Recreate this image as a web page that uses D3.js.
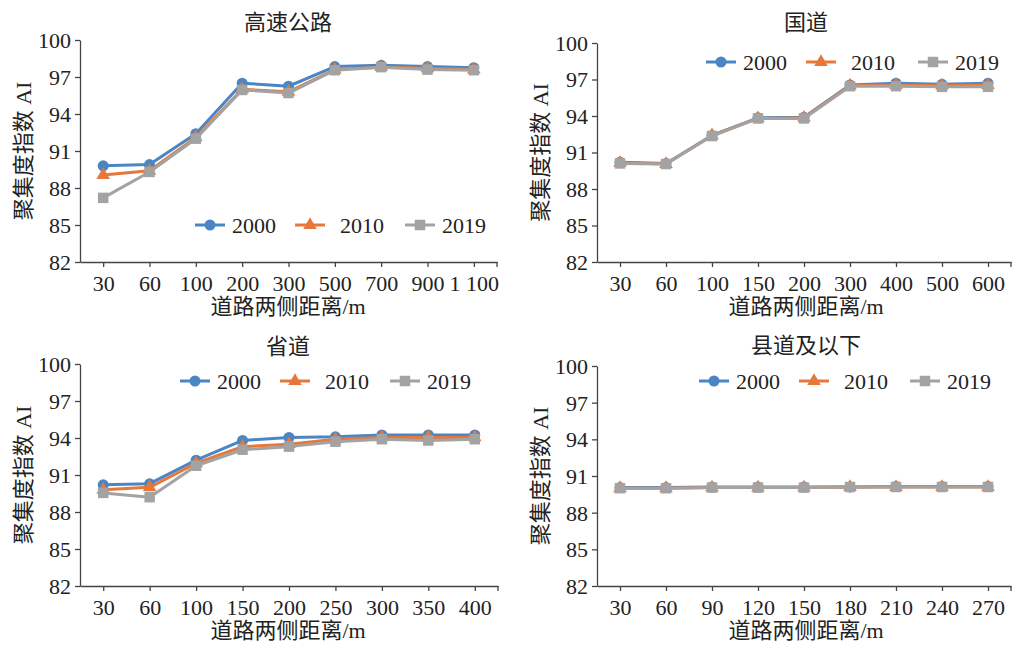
<!DOCTYPE html>
<html>
<head>
<meta charset="utf-8">
<script src="https://cdn.jsdelivr.net/npm/d3@7"></script>
<style>
  body { margin: 0; background: #fff; }
  svg { display: block; font-family: 'Liberation Serif', 'Noto Sans CJK SC', serif; }
  .tick text { font-size: 22px; fill: #222; }
  .ttl { font-size: 22px; fill: #222; }
</style>
</head>
<body>
<svg id="chart" width="1012" height="648"></svg>
<script>
// data
const years = ['2000', '2010', '2019'];
const yTicks = [82, 85, 88, 91, 94, 97, 100];

const highwayDist = ['30', '60', '100', '200', '300', '500', '700', '900', '1 100'];
const highway2000 = [89.8, 89.9, 92.4, 96.5, 96.25, 97.85, 97.95, 97.85, 97.75];
const highway2010 = [89.05, 89.4, 92.1, 96.0, 95.8, 97.6, 97.8, 97.7, 97.6];
const highway2019 = [87.2, 89.3, 92.0, 95.95, 95.7, 97.55, 97.8, 97.6, 97.55];

const nationalDist = ['30', '60', '100', '150', '200', '300', '400', '500', '600'];
const national2000 = [90.2, 90.1, 92.4, 93.85, 93.9, 96.55, 96.7, 96.6, 96.7];
const national2010 = [90.15, 90.05, 92.4, 93.8, 93.85, 96.5, 96.55, 96.5, 96.55];
const national2019 = [90.1, 90.05, 92.35, 93.8, 93.8, 96.45, 96.45, 96.4, 96.4];

const provincialDist = ['30', '60', '100', '150', '200', '250', '300', '350', '400'];
const provincial2000 = [90.2, 90.3, 92.2, 93.8, 94.05, 94.1, 94.25, 94.25, 94.25];
const provincial2010 = [89.8, 90.0, 91.95, 93.3, 93.5, 93.9, 94.05, 94.05, 94.05];
const provincial2019 = [89.55, 89.2, 91.75, 93.05, 93.3, 93.7, 93.9, 93.8, 93.9];

const countyDist = ['30', '60', '90', '120', '150', '180', '210', '240', '270'];
const county2000 = [90.05, 90.05, 90.1, 90.1, 90.1, 90.1, 90.15, 90.15, 90.15];
const county2010 = [90.0, 90.0, 90.05, 90.05, 90.05, 90.1, 90.1, 90.1, 90.1];
const county2019 = [90.0, 90.0, 90.05, 90.05, 90.05, 90.1, 90.1, 90.1, 90.1];

const colors = ['#4a86c5', '#e5783a', '#a3a3a3'];
const symbols = [d3.symbolCircle, d3.symbolTriangle, d3.symbolSquare];
const symbolSizes = [95, 80, 110];

const svg = d3.select('#chart');

function drawPanel(p) {
  const x = d3.scalePoint().domain(p.dist).range([p.left, p.right]).padding(0.5);
  const y = d3.scaleLinear().domain([82, 100]).range([p.bottom, p.top]);
  const g = svg.append('g');

  // axes
  const ax = g.append('g')
    .attr('transform', `translate(0,${p.bottom})`)
    .call(d3.axisBottom(x).tickSize(5).tickSizeOuter(0).tickPadding(4));
  g.append('line')
    .attr('x1', p.right).attr('x2', p.right)
    .attr('y1', p.bottom).attr('y2', p.bottom + 5)
    .attr('stroke', '#444').attr('stroke-width', 1.3);

  const ay = g.append('g')
    .attr('transform', `translate(${p.left},0)`)
    .call(d3.axisLeft(y).tickValues(yTicks).tickSize(5).tickSizeOuter(0).tickPadding(4));

  [ax, ay].forEach(a => {
    a.attr('font-family', null).attr('font-size', null);
    a.select('.domain').attr('stroke', '#444').attr('stroke-width', 1.3);
    a.selectAll('.tick line').attr('stroke', '#444').attr('stroke-width', 1.3);
  });
  ax.selectAll('.tick text').attr('dy', '0.9em');
  ay.selectAll('.tick text').attr('dy', '0.34em');

  // titles
  g.append('text').attr('class', 'ttl')
    .attr('x', p.titleX).attr('y', p.titleY)
    .attr('text-anchor', 'middle').attr('dominant-baseline', 'central')
    .text(p.title);
  g.append('text').attr('class', 'ttl')
    .attr('x', p.titleX).attr('y', p.bottom + 44)
    .attr('text-anchor', 'middle').attr('dominant-baseline', 'central')
    .text('道路两侧距离/m');
  g.append('text').attr('class', 'ttl')
    .attr('transform', `translate(${p.left - 57},${(p.top + p.bottom) / 2}) rotate(-90)`)
    .attr('text-anchor', 'middle').attr('dominant-baseline', 'central')
    .text('聚集度指数 AI');

  // series
  const line = d3.line().x((d, i) => x(p.dist[i])).y(d => y(d));
  p.series.forEach((vals, k) => {
    const s = g.append('g');
    s.append('path').datum(vals)
      .attr('d', line)
      .attr('fill', 'none')
      .attr('stroke', colors[k])
      .attr('stroke-width', 3)
      .attr('stroke-linejoin', 'round');
    s.selectAll('path.pt').data(vals).enter().append('path')
      .attr('class', 'pt')
      .attr('transform', (d, i) => `translate(${x(p.dist[i])},${y(d)})`)
      .attr('d', d3.symbol().type(symbols[k]).size(symbolSizes[k]))
      .attr('fill', colors[k]);
  });

  // legend
  years.forEach((yr, k) => {
    const lx = p.legendX[k];
    const lg = g.append('g').attr('transform', `translate(${lx},${p.legendY})`);
    lg.append('line').attr('x1', 0).attr('x2', 30).attr('y1', 0).attr('y2', 0)
      .attr('stroke', colors[k]).attr('stroke-width', 3);
    lg.append('path').attr('transform', 'translate(15,0)')
      .attr('d', d3.symbol().type(symbols[k]).size(symbolSizes[k]))
      .attr('fill', colors[k]);
    lg.append('text').attr('class', 'ttl')
      .attr('x', k === 1 ? 45 : 37).attr('y', 0)
      .attr('dominant-baseline', 'central')
      .text(yr);
  });
}

drawPanel({
  title: '高速公路', dist: highwayDist, series: [highway2000, highway2010, highway2019],
  left: 80, right: 497, top: 40, bottom: 262, titleX: 288, titleY: 22,
  legendX: [195, 295, 405], legendY: 225
});
drawPanel({
  title: '国道', dist: nationalDist, series: [national2000, national2010, national2019],
  left: 597, right: 1011, top: 43, bottom: 262, titleX: 806, titleY: 22,
  legendX: [706, 806, 918], legendY: 62
});
drawPanel({
  title: '省道', dist: provincialDist, series: [provincial2000, provincial2010, provincial2019],
  left: 80, right: 498, top: 364, bottom: 586, titleX: 288, titleY: 346,
  legendX: [180, 280, 390], legendY: 381
});
drawPanel({
  title: '县道及以下', dist: countyDist, series: [county2000, county2010, county2019],
  left: 597, right: 1011, top: 366, bottom: 586, titleX: 806, titleY: 345,
  legendX: [699, 799, 910], legendY: 381
});
</script>
</body>
</html>
